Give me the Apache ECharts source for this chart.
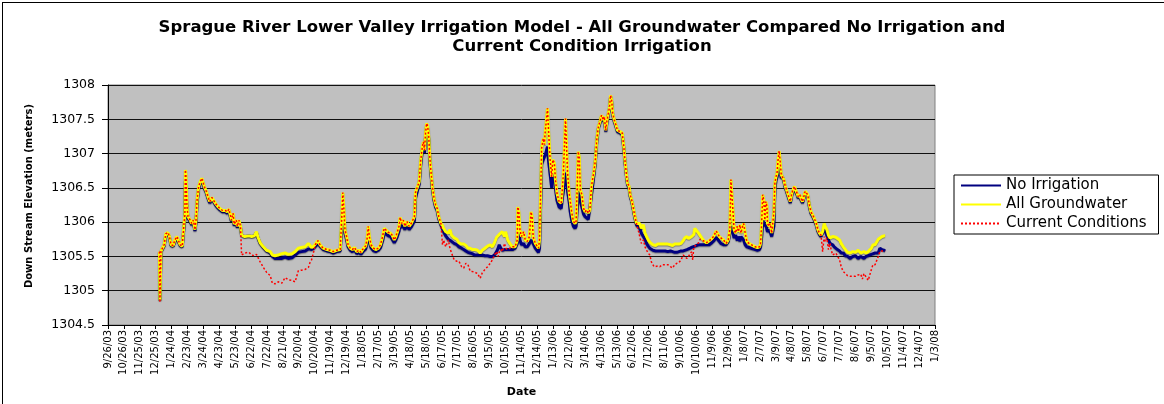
<!DOCTYPE html>
<html lang="en">
  <head>
    <meta charset="UTF-8" />
    <title>Sprague River Lower Valley Irrigation Model</title>
    <script src="https://cdn.jsdelivr.net/npm/echarts@6/dist/echarts.min.js"></script>
    <style>
      html, body { margin: 0; padding: 0; background: #fff; }
      .con { position: absolute; left: 0; top: 0; width: 1164px; height: 404px; }
      .frame {
        position: absolute; left: 2px; top: 2px; width: 1162px; height: 402px;
        border-left: 1px solid #000; border-top: 1px solid #000;
        box-sizing: border-box; pointer-events: none;
      }
    </style>
  </head>
  <body>
    <div class="con"></div>
    <div class="frame"></div>
    <script>
      // x values are days counted from 9/26/03 (first tick), one tick every 30 days
      let startDate = Date.UTC(2003, 8, 26);

      let days = [
        97, 98, 99, 100, 101, 106, 109, 113, 116, 119,
        123, 126, 130, 133, 136, 140, 143, 144, 145, 146,
        147, 149, 151, 155, 158, 161, 164, 166, 168, 171,
        174, 177, 179, 182, 185, 189, 192, 196, 199, 203,
        207, 211, 216, 221, 225, 228, 231, 233, 236, 238,
        242, 244, 247, 250,
        252, 258, 266, 271, 276, 280, 283, 287, 293, 299,
        306, 310, 315, 321, 328, 334, 340, 347, 353, 359,
        365, 372, 378, 381, 384, 388, 391, 396, 400, 406,
        413, 419, 425, 431, 438,
        441, 443, 445, 447, 450, 453, 457, 461, 465, 469,
        474, 477, 482, 486, 489, 491, 493, 496, 501, 505,
        510, 514, 518, 521, 524, 529, 533, 536, 540, 543,
        546, 549, 551, 554, 557, 560, 564, 568, 572, 575,
        578, 580, 584, 587, 590, 593, 595, 597, 599, 601,
        603, 605, 607, 609, 612, 615, 618, 621, 624, 628,
        631, 633, 637, 642, 645, 648, 653, 658, 662, 667,
        671, 675, 679, 683, 687, 692, 697, 702, 706, 711,
        716, 721, 725, 729, 733, 736, 738, 741, 744, 748,
        750, 754, 758, 763, 768, 772, 773, 775, 777, 780,
        784, 787, 791, 795, 798, 800, 802, 806, 809, 812,
        814, 816, 818, 821, 823, 825, 827, 829, 831, 834,
        837, 839, 842, 844, 847, 851, 855, 857, 859, 861,
        863, 865, 867, 870, 872, 875, 878, 881, 883, 885,
        887, 889, 891, 894, 897, 900, 903, 906, 909, 912,
        916, 919, 922, 925, 928, 931, 934, 936, 939, 941,
        944, 946, 948, 950, 952, 955, 958, 961, 966, 970,
        973, 975, 978, 980, 983, 985, 988, 991, 994, 997,
        1000,
        1003, 1006, 1010, 1013, 1016, 1019, 1022, 1025, 1028, 1030,
        1033, 1037, 1041, 1046, 1051, 1056, 1061, 1065, 1069, 1073,
        1077, 1081, 1085, 1088, 1092, 1095, 1098, 1101, 1103, 1105,
        1107, 1110, 1114, 1117, 1120, 1125, 1129, 1134, 1139, 1143,
        1147, 1150, 1153, 1156, 1161, 1166, 1170, 1173, 1174, 1175,
        1177, 1179, 1181, 1184, 1187, 1189, 1192, 1194, 1197, 1199,
        1202, 1205, 1209, 1212, 1216, 1221, 1225, 1229, 1231, 1233,
        1235, 1237, 1239, 1241, 1243, 1244, 1247, 1249, 1252, 1254,
        1256, 1258, 1260, 1262, 1264, 1266, 1268, 1270, 1272, 1275,
        1277, 1280, 1282, 1285, 1287, 1290, 1292, 1295, 1297, 1300,
        1302, 1305, 1307, 1310, 1312, 1315, 1317, 1320, 1323, 1326,
        1329, 1332, 1336, 1339, 1342, 1345,
        1348, 1351, 1353, 1356, 1359, 1362, 1364, 1367, 1370, 1373,
        1376, 1380, 1383, 1387, 1391, 1395, 1400, 1405, 1410, 1415,
        1420, 1423, 1426, 1430, 1434, 1437, 1440, 1443, 1447, 1450,
        1453, 1456, 1460, 1464, 1466
      ];

      let noIrrigation = [
        1305.56, 1304.86, 1304.86, 1305.57, 1305.59, 1305.66, 1305.81, 1305.83, 1305.78, 1305.66,
        1305.65, 1305.72, 1305.77, 1305.76, 1305.66, 1305.64, 1305.66, 1305.98, 1306.05, 1306.60,
        1306.60, 1306.20, 1306.06, 1306.01, 1305.96, 1306.01, 1305.87, 1306.00, 1306.28, 1306.49,
        1306.57, 1306.62, 1306.57, 1306.49, 1306.44, 1306.34, 1306.28, 1306.34, 1306.33, 1306.25,
        1306.21, 1306.18, 1306.15, 1306.15, 1306.13, 1306.17, 1306.18, 1306.01, 1306.10, 1305.95,
        1306.00, 1305.92, 1306.00, 1305.92,
        1305.81, 1305.79, 1305.80, 1305.79, 1305.80, 1305.85, 1305.77, 1305.69, 1305.63, 1305.58,
        1305.55, 1305.50, 1305.47, 1305.47, 1305.47, 1305.49, 1305.47, 1305.48, 1305.52, 1305.56,
        1305.57, 1305.58, 1305.61, 1305.62, 1305.60, 1305.62, 1305.64, 1305.69, 1305.65, 1305.60,
        1305.58, 1305.57, 1305.55, 1305.57, 1305.58,
        1305.95, 1306.25, 1306.05, 1305.84, 1305.75, 1305.64, 1305.59, 1305.57, 1305.60, 1305.54,
        1305.56, 1305.53, 1305.58, 1305.61, 1305.70, 1305.82, 1305.74, 1305.63, 1305.58, 1305.57,
        1305.59, 1305.63, 1305.73, 1305.84, 1305.84, 1305.80, 1305.79, 1305.77, 1305.70, 1305.74,
        1305.80, 1305.87, 1305.98, 1305.92, 1305.96, 1305.89, 1305.95, 1305.89, 1305.93, 1305.92,
        1306.02, 1306.35, 1306.47, 1306.55, 1306.85, 1307.05, 1307.12, 1307.01, 1307.25, 1307.40,
        1307.36, 1307.21, 1306.92, 1306.72, 1306.49, 1306.32, 1306.22, 1306.17, 1306.05, 1305.96,
        1305.90, 1305.86, 1305.80, 1305.75, 1305.74, 1305.72, 1305.69, 1305.67, 1305.64, 1305.62,
        1305.60, 1305.58, 1305.56, 1305.55, 1305.54, 1305.52, 1305.52, 1305.52, 1305.52, 1305.51,
        1305.51, 1305.50, 1305.50, 1305.52, 1305.57, 1305.62, 1305.67, 1305.62, 1305.59, 1305.60,
        1305.60, 1305.60, 1305.60, 1305.60, 1305.62, 1305.69, 1305.89, 1305.85, 1305.74, 1305.67,
        1305.69, 1305.64, 1305.64, 1305.69, 1305.74, 1305.72, 1305.69, 1305.62, 1305.60, 1305.56,
        1305.62, 1306.22, 1306.85, 1306.91, 1306.95, 1306.98, 1307.00, 1307.10, 1306.90, 1306.70,
        1306.50, 1306.75, 1306.72, 1306.50, 1306.32, 1306.22, 1306.20, 1306.35, 1306.45, 1306.60,
        1306.72, 1306.62, 1306.45, 1306.30, 1306.15, 1306.02, 1305.94, 1305.91, 1305.94, 1306.20,
        1306.45, 1306.40, 1306.30, 1306.22, 1306.12, 1306.08, 1306.08, 1306.04, 1306.06, 1306.40,
        1306.65, 1306.85, 1307.18, 1307.37, 1307.45, 1307.54, 1307.47, 1307.52, 1307.32, 1307.45,
        1307.47, 1307.66, 1307.83, 1307.76, 1307.57, 1307.47, 1307.40, 1307.32, 1307.30, 1307.28,
        1307.08, 1306.89, 1306.67, 1306.55, 1306.50, 1306.38, 1306.30, 1306.18, 1306.06, 1305.96,
        1305.94,
        1305.91, 1305.84, 1305.79, 1305.75, 1305.69, 1305.65, 1305.62, 1305.62, 1305.59, 1305.59,
        1305.58, 1305.58, 1305.58, 1305.58, 1305.58, 1305.57, 1305.58, 1305.57, 1305.56, 1305.56,
        1305.57, 1305.58, 1305.58, 1305.58, 1305.60, 1305.61, 1305.62, 1305.63, 1305.64, 1305.64,
        1305.65, 1305.66, 1305.67, 1305.67, 1305.67, 1305.67, 1305.67, 1305.67, 1305.70, 1305.73,
        1305.78, 1305.75, 1305.72, 1305.69, 1305.67, 1305.67, 1305.72, 1305.84, 1305.90, 1305.94,
        1305.89, 1305.84, 1305.77, 1305.81, 1305.73, 1305.79, 1305.72, 1305.79, 1305.77, 1305.74,
        1305.67, 1305.64, 1305.63, 1305.62, 1305.61, 1305.60, 1305.59, 1305.60, 1305.64, 1305.78,
        1306.03, 1306.03, 1305.94, 1305.98, 1305.89, 1305.86, 1305.89, 1305.86, 1305.79, 1305.79,
        1305.94, 1306.47, 1306.61, 1306.66, 1306.75, 1306.80, 1306.75, 1306.64, 1306.67, 1306.60,
        1306.52, 1306.45, 1306.40, 1306.33, 1306.28, 1306.40, 1306.45, 1306.50, 1306.45, 1306.40,
        1306.35, 1306.38, 1306.33, 1306.28, 1306.33, 1306.43, 1306.45, 1306.38, 1306.23, 1306.13,
        1306.09, 1306.04, 1305.96, 1305.87, 1305.82, 1305.79,
        1305.85, 1305.91, 1305.89, 1305.81, 1305.74, 1305.69, 1305.67, 1305.67, 1305.64, 1305.62,
        1305.60, 1305.58, 1305.55, 1305.55, 1305.51, 1305.50, 1305.47, 1305.50, 1305.51, 1305.47,
        1305.50, 1305.49, 1305.47, 1305.50, 1305.51, 1305.51, 1305.53, 1305.54, 1305.55, 1305.54,
        1305.55, 1305.62, 1305.60, 1305.59, 1305.58
      ];

      let allGroundwater = [
        1305.57, 1304.86, 1304.86, 1305.58, 1305.60, 1305.67, 1305.83, 1305.85, 1305.79, 1305.67,
        1305.66, 1305.74, 1305.79, 1305.77, 1305.67, 1305.65, 1305.67, 1306.03, 1306.10, 1306.76,
        1306.69, 1306.23, 1306.08, 1306.03, 1305.98, 1306.03, 1305.89, 1306.03, 1306.32, 1306.52,
        1306.59, 1306.64, 1306.59, 1306.51, 1306.46, 1306.36, 1306.30, 1306.36, 1306.35, 1306.27,
        1306.23, 1306.20, 1306.17, 1306.17, 1306.15, 1306.19, 1306.20, 1306.03, 1306.13, 1305.97,
        1306.03, 1305.94, 1306.03, 1305.94,
        1305.81, 1305.79, 1305.80, 1305.79, 1305.80, 1305.86, 1305.78, 1305.70, 1305.64, 1305.59,
        1305.57, 1305.52, 1305.51, 1305.52, 1305.54, 1305.55, 1305.53, 1305.54, 1305.57, 1305.62,
        1305.63, 1305.64, 1305.69, 1305.71, 1305.63, 1305.65, 1305.67, 1305.73, 1305.67, 1305.62,
        1305.60, 1305.59, 1305.57, 1305.59, 1305.60,
        1306.08, 1306.43, 1306.18, 1305.89, 1305.79, 1305.67, 1305.62, 1305.60, 1305.63, 1305.57,
        1305.59, 1305.56, 1305.62, 1305.65, 1305.77, 1305.94, 1305.79, 1305.67, 1305.62, 1305.60,
        1305.62, 1305.67, 1305.79, 1305.91, 1305.89, 1305.85, 1305.84, 1305.81, 1305.74, 1305.79,
        1305.86, 1305.94, 1306.07, 1305.98, 1306.03, 1305.94, 1306.01, 1305.94, 1305.98, 1305.97,
        1306.08, 1306.43, 1306.52, 1306.59, 1306.91, 1307.10, 1307.17, 1307.05, 1307.30, 1307.44,
        1307.40, 1307.25, 1306.96, 1306.76, 1306.52, 1306.35, 1306.25, 1306.20, 1306.08, 1305.98,
        1305.95, 1305.91, 1305.86, 1305.84, 1305.89, 1305.81, 1305.77, 1305.75, 1305.70, 1305.68,
        1305.68, 1305.66, 1305.62, 1305.62, 1305.60, 1305.60, 1305.59, 1305.55, 1305.59, 1305.62,
        1305.65, 1305.67, 1305.64, 1305.70, 1305.78, 1305.80, 1305.82, 1305.84, 1305.86, 1305.79,
        1305.86, 1305.74, 1305.69, 1305.64, 1305.64, 1305.74, 1306.22, 1306.15, 1305.89, 1305.79,
        1305.86, 1305.74, 1305.72, 1305.79, 1306.15, 1306.08, 1305.79, 1305.69, 1305.67, 1305.62,
        1305.74, 1306.37, 1307.08, 1307.22, 1307.13, 1307.34, 1307.49, 1307.66, 1307.34, 1306.91,
        1306.66, 1306.91, 1306.86, 1306.62, 1306.42, 1306.30, 1306.28, 1306.47, 1306.71, 1307.10,
        1307.51, 1307.10, 1306.71, 1306.42, 1306.30, 1306.13, 1306.01, 1305.98, 1306.01, 1306.47,
        1307.03, 1306.95, 1306.47, 1306.40, 1306.20, 1306.15, 1306.18, 1306.13, 1306.18, 1306.52,
        1306.71, 1306.88, 1307.20, 1307.39, 1307.47, 1307.56, 1307.49, 1307.54, 1307.34, 1307.47,
        1307.49, 1307.68, 1307.85, 1307.78, 1307.59, 1307.49, 1307.42, 1307.34, 1307.32, 1307.30,
        1307.10, 1306.91, 1306.69, 1306.57, 1306.52, 1306.40, 1306.32, 1306.20, 1306.08, 1305.98,
        1305.96,
        1305.98, 1305.91, 1305.96, 1305.84, 1305.79, 1305.74, 1305.71, 1305.69, 1305.67, 1305.67,
        1305.66, 1305.68, 1305.68, 1305.68, 1305.68, 1305.68, 1305.67, 1305.66, 1305.68, 1305.68,
        1305.68, 1305.69, 1305.73, 1305.77, 1305.79, 1305.76, 1305.74, 1305.79, 1305.79, 1305.82,
        1305.91, 1305.89, 1305.84, 1305.86, 1305.77, 1305.72, 1305.70, 1305.73, 1305.76, 1305.80,
        1305.87, 1305.84, 1305.79, 1305.78, 1305.74, 1305.69, 1305.74, 1305.89, 1306.23, 1306.62,
        1306.60, 1306.15, 1305.89, 1305.84, 1305.94, 1305.86, 1305.96, 1305.84, 1305.94, 1305.98,
        1305.84, 1305.72, 1305.69, 1305.67, 1305.66, 1305.64, 1305.63, 1305.64, 1305.69, 1305.98,
        1306.40, 1306.32, 1306.03, 1306.30, 1306.23, 1305.98, 1305.94, 1305.98, 1305.84, 1305.86,
        1306.13, 1306.57, 1306.66, 1306.71, 1306.91, 1307.04, 1306.88, 1306.69, 1306.69, 1306.62,
        1306.54, 1306.47, 1306.42, 1306.35, 1306.30, 1306.42, 1306.47, 1306.52, 1306.47, 1306.42,
        1306.37, 1306.40, 1306.35, 1306.30, 1306.35, 1306.45, 1306.47, 1306.40, 1306.25, 1306.15,
        1306.11, 1306.06, 1305.98, 1305.89, 1305.84, 1305.81,
        1305.86, 1305.98, 1305.94, 1305.89, 1305.81, 1305.77, 1305.78, 1305.79, 1305.78, 1305.78,
        1305.77, 1305.74, 1305.69, 1305.64, 1305.60, 1305.56, 1305.55, 1305.57, 1305.56, 1305.59,
        1305.55, 1305.56, 1305.57, 1305.55, 1305.57, 1305.59, 1305.62, 1305.67, 1305.67, 1305.69,
        1305.75, 1305.77, 1305.79, 1305.80, 1305.80
      ];

      let currentConditions = [
        1305.57, 1304.83, 1304.83, 1305.58, 1305.60, 1305.67, 1305.83, 1305.85, 1305.79, 1305.67,
        1305.66, 1305.74, 1305.79, 1305.77, 1305.67, 1305.65, 1305.67, 1306.03, 1306.10, 1306.76,
        1306.69, 1306.23, 1306.08, 1306.03, 1305.98, 1306.03, 1305.89, 1306.03, 1306.32, 1306.52,
        1306.59, 1306.64, 1306.59, 1306.51, 1306.46, 1306.36, 1306.30, 1306.36, 1306.35, 1306.27,
        1306.23, 1306.20, 1306.17, 1306.17, 1306.15, 1306.19, 1306.20, 1306.03, 1306.13, 1305.97,
        1306.03, 1305.94, 1306.03, 1305.94,
        1305.52, 1305.55, 1305.56, 1305.52, 1305.51, 1305.53, 1305.55, 1305.42, 1305.34, 1305.27,
        1305.22, 1305.11, 1305.10, 1305.13, 1305.11, 1305.19, 1305.16, 1305.15, 1305.13, 1305.29,
        1305.30, 1305.31, 1305.34, 1305.41, 1305.45, 1305.57, 1305.67, 1305.73, 1305.67, 1305.62,
        1305.60, 1305.59, 1305.57, 1305.59, 1305.60,
        1306.08, 1306.43, 1306.18, 1305.89, 1305.79, 1305.67, 1305.62, 1305.60, 1305.63, 1305.57,
        1305.59, 1305.56, 1305.62, 1305.65, 1305.77, 1305.94, 1305.79, 1305.67, 1305.62, 1305.60,
        1305.62, 1305.67, 1305.79, 1305.91, 1305.89, 1305.85, 1305.84, 1305.81, 1305.74, 1305.79,
        1305.86, 1305.94, 1306.07, 1305.98, 1306.03, 1305.94, 1306.01, 1305.94, 1305.98, 1305.97,
        1306.08, 1306.43, 1306.52, 1306.59, 1306.91, 1307.10, 1307.17, 1307.05, 1307.30, 1307.44,
        1307.40, 1307.25, 1306.96, 1306.76, 1306.52, 1306.35, 1306.25, 1306.20, 1306.08, 1305.98,
        1305.67, 1305.74, 1305.64, 1305.74, 1305.62, 1305.55, 1305.45, 1305.43, 1305.43, 1305.35,
        1305.33, 1305.40, 1305.38, 1305.29, 1305.28, 1305.27, 1305.25, 1305.18, 1305.26, 1305.31,
        1305.35, 1305.40, 1305.45, 1305.52, 1305.57, 1305.50, 1305.56, 1305.60, 1305.57, 1305.69,
        1305.62, 1305.60, 1305.62, 1305.64, 1305.64, 1305.74, 1306.22, 1306.15, 1305.89, 1305.79,
        1305.86, 1305.74, 1305.72, 1305.79, 1306.15, 1306.08, 1305.79, 1305.69, 1305.67, 1305.62,
        1305.74, 1306.37, 1307.08, 1307.22, 1307.13, 1307.34, 1307.49, 1307.66, 1307.34, 1306.91,
        1306.66, 1306.91, 1306.86, 1306.62, 1306.42, 1306.30, 1306.28, 1306.47, 1306.71, 1307.10,
        1307.51, 1307.10, 1306.71, 1306.42, 1306.30, 1306.13, 1306.01, 1305.98, 1306.01, 1306.47,
        1307.03, 1306.95, 1306.47, 1306.40, 1306.20, 1306.15, 1306.18, 1306.13, 1306.18, 1306.52,
        1306.71, 1306.88, 1307.20, 1307.39, 1307.47, 1307.56, 1307.49, 1307.54, 1307.34, 1307.47,
        1307.49, 1307.68, 1307.85, 1307.78, 1307.59, 1307.49, 1307.42, 1307.34, 1307.32, 1307.30,
        1307.10, 1306.91, 1306.69, 1306.57, 1306.52, 1306.40, 1306.32, 1306.20, 1306.08, 1305.98,
        1305.89,
        1305.79, 1305.69, 1305.74, 1305.64, 1305.59, 1305.55, 1305.52, 1305.42, 1305.40, 1305.35,
        1305.33, 1305.36, 1305.35, 1305.38, 1305.38, 1305.38, 1305.35, 1305.33, 1305.38, 1305.40,
        1305.41, 1305.45, 1305.52, 1305.51, 1305.47, 1305.50, 1305.52, 1305.57, 1305.45, 1305.64,
        1305.66, 1305.67, 1305.70, 1305.75, 1305.77, 1305.72, 1305.70, 1305.73, 1305.76, 1305.80,
        1305.87, 1305.84, 1305.79, 1305.78, 1305.74, 1305.69, 1305.74, 1305.89, 1306.23, 1306.62,
        1306.60, 1306.15, 1305.89, 1305.84, 1305.94, 1305.86, 1305.96, 1305.84, 1305.94, 1305.98,
        1305.84, 1305.72, 1305.69, 1305.67, 1305.66, 1305.64, 1305.63, 1305.64, 1305.69, 1305.98,
        1306.40, 1306.32, 1306.03, 1306.30, 1306.23, 1305.98, 1305.94, 1305.98, 1305.84, 1305.86,
        1306.13, 1306.57, 1306.66, 1306.71, 1306.91, 1307.04, 1306.88, 1306.69, 1306.69, 1306.62,
        1306.54, 1306.47, 1306.42, 1306.35, 1306.30, 1306.42, 1306.47, 1306.52, 1306.47, 1306.42,
        1306.37, 1306.40, 1306.35, 1306.30, 1306.35, 1306.45, 1306.47, 1306.40, 1306.25, 1306.15,
        1306.11, 1306.06, 1305.98, 1305.89, 1305.84, 1305.81,
        1305.57, 1305.79, 1305.72, 1305.77, 1305.60, 1305.69, 1305.60, 1305.52, 1305.52, 1305.55,
        1305.55, 1305.45, 1305.35, 1305.28, 1305.25, 1305.22, 1305.21, 1305.21, 1305.21, 1305.23,
        1305.24, 1305.17, 1305.25, 1305.20, 1305.15, 1305.23, 1305.31, 1305.38, 1305.38, 1305.40,
        1305.50, 1305.57, 1305.58, 1305.58, 1305.58
      ];

      let font = "DejaVu Sans";

      function dateLabel(d) {
        let t = new Date(startDate + d * 86400000);
        let yy = String(t.getUTCFullYear()).slice(2);
        return t.getUTCMonth() + 1 + "/" + t.getUTCDate() + "/" + yy;
      }

      function pairs(values) {
        return days.map(function (d, i) {
          return [d, values[i]];
        });
      }

      let mychart = echarts.init(document.querySelector(".con"));
      let options = {
        animation: false,
        title: {
          text:
            "Sprague River Lower Valley Irrigation Model - All Groundwater Compared No Irrigation and\nCurrent Condition Irrigation",
          left: "center",
          top: 13,
          textStyle: {
            fontFamily: font,
            fontSize: 16.5,
            fontWeight: "bold",
            lineHeight: 19,
            color: "#000",
          },
        },
        legend: {
          orient: "vertical",
          left: 954,
          top: 175,
          itemWidth: 40,
          itemHeight: 10,
          itemGap: 4,
          padding: [3, 12, 3, 6],
          borderColor: "#000",
          borderWidth: 1,
          backgroundColor: "#fff",
          // hide the circle that line series put in their legend icon
          itemStyle: { opacity: 0 },
          textStyle: { fontFamily: font, fontSize: 15, color: "#000" },
          data: ["No Irrigation", "All Groundwater", "Current Conditions"],
        },
        grid: {
          left: 108,
          right: 229,
          top: 85,
          bottom: 79,
          show: true,
          backgroundColor: "#C0C0C0",
          borderColor: "#808080",
          borderWidth: 1,
        },
        xAxis: {
          type: "value",
          min: 0,
          max: 1560,
          interval: 30,
          name: "Date",
          nameLocation: "middle",
          nameGap: 62,
          nameTextStyle: { fontFamily: font, fontSize: 11, fontWeight: "bold", color: "#000" },
          axisLine: { lineStyle: { color: "#000" } },
          axisTick: { length: 4, lineStyle: { color: "#000" } },
          splitLine: { show: false },
          axisLabel: {
            rotate: 90,
            margin: 5,
            fontFamily: font,
            fontSize: 10,
            color: "#000",
            formatter: dateLabel,
          },
        },
        yAxis: {
          type: "value",
          min: 1304.5,
          max: 1308,
          interval: 0.5,
          name: "Down Stream Elevation (meters)",
          nameLocation: "middle",
          nameGap: 74,
          nameTextStyle: {
            fontFamily: font,
            fontSize: 10,
            fontWeight: "bold",
            color: "#000",
            padding: [0, 0, 0, 18],
          },
          axisLine: { show: true, lineStyle: { color: "#000" } },
          axisTick: { show: true, length: 6, lineStyle: { color: "#000" } },
          splitLine: { lineStyle: { color: "#111", width: 1 } },
          axisLabel: {
            margin: 13,
            fontFamily: font,
            fontSize: 12.5,
            color: "#000",
            formatter: function (v) {
              return String(v);
            },
          },
        },
        series: [
          {
            name: "No Irrigation",
            type: "line",
            symbol: "none",
            data: pairs(noIrrigation),
            itemStyle: { color: "#000080" },
            lineStyle: {
              color: "#000080",
              width: 3,
              shadowColor: "rgba(0,0,0,0.35)",
              shadowBlur: 1,
              shadowOffsetY: 1,
            },
          },
          {
            name: "All Groundwater",
            type: "line",
            symbol: "none",
            data: pairs(allGroundwater),
            itemStyle: { color: "#FFFF00" },
            lineStyle: {
              color: "#FFFF00",
              width: 3,
              shadowColor: "rgba(0,0,0,0.35)",
              shadowBlur: 1,
              shadowOffsetY: 1,
            },
          },
          {
            name: "Current Conditions",
            type: "line",
            symbol: "none",
            data: pairs(currentConditions),
            itemStyle: { color: "#FF0000" },
            lineStyle: { color: "#FF0000", width: 1.5, type: [2, 2] },
          },
        ],
      };
      mychart.setOption(options);
    </script>
  </body>
</html>
